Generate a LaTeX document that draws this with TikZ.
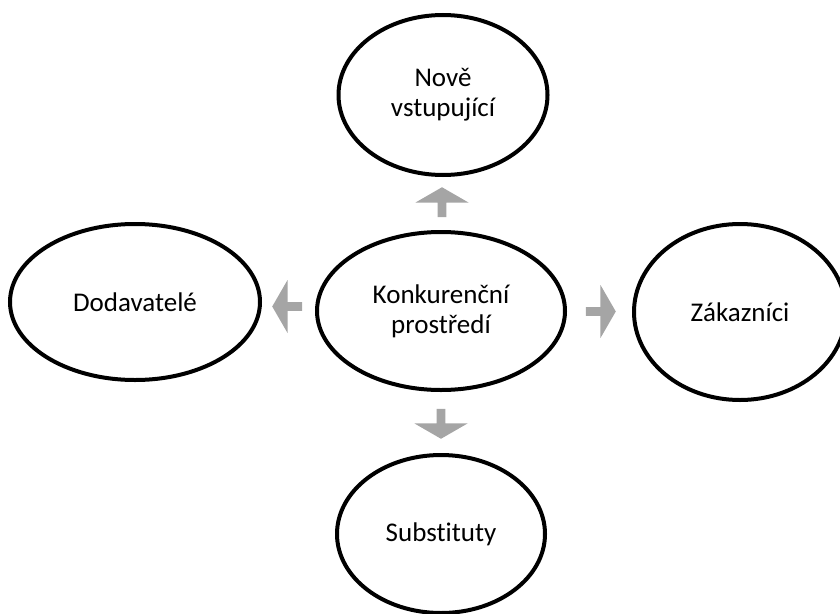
\documentclass[tikz,border=0pt]{standalone}
\usepackage{fontspec}
\setmainfont{Carlito}[Ligatures=NoCommon]
\usetikzlibrary{calc, shapes.geometric, shapes.arrows}
\definecolor{arrowgray}{HTML}{A5A5A5}

\begin{document}
\begin{tikzpicture}[x=1pt, y=-1pt, line width=4pt,
        force/.style={draw, ellipse, inner sep=0pt, align=center, font=\fontsize{27}{30}\selectfont},
        push/.style={single arrow, fill=arrowgray, draw=none, inner sep=0pt, minimum height=30pt, minimum width=53pt, single arrow head extend=10pt, single arrow tip angle=120}]
        \useasboundingbox (0,0) rectangle (840,613);
        \clip (0,0) rectangle (840,613);

        \node[force, minimum width=248pt, minimum height=158pt] (rivalry) at (441,311) {Konkurenční\\prostředí};
        \node[force, minimum width=209pt, minimum height=160pt] (entrants) at (443,95) {Nově\\vstupující};
        \node[force, minimum width=250pt, minimum height=156pt] (suppliers) at (135,302) {Dodavatelé};
        \node[force, minimum width=212pt, minimum height=176pt] (customers) at (740,312) {Zákazníci};
        \node[force, minimum width=208pt, minimum height=158pt] (substitutes) at (441,534) {Substituty};

        \node[push, rotate=90] (toentrants) at ($(rivalry.north)!0.5!(entrants.south)$) {};
        \node[push, rotate=180] (tosuppliers) at ($(rivalry.west)!0.5!(suppliers.east)$) {};
        \node[push] (tocustomers) at ($(rivalry.east)!0.5!(customers.west)$) {};
        \node[push, rotate=-90] (tosubstitutes) at ($(rivalry.south)!0.5!(substitutes.north)$) {};
    \end{tikzpicture}
\end{document}
